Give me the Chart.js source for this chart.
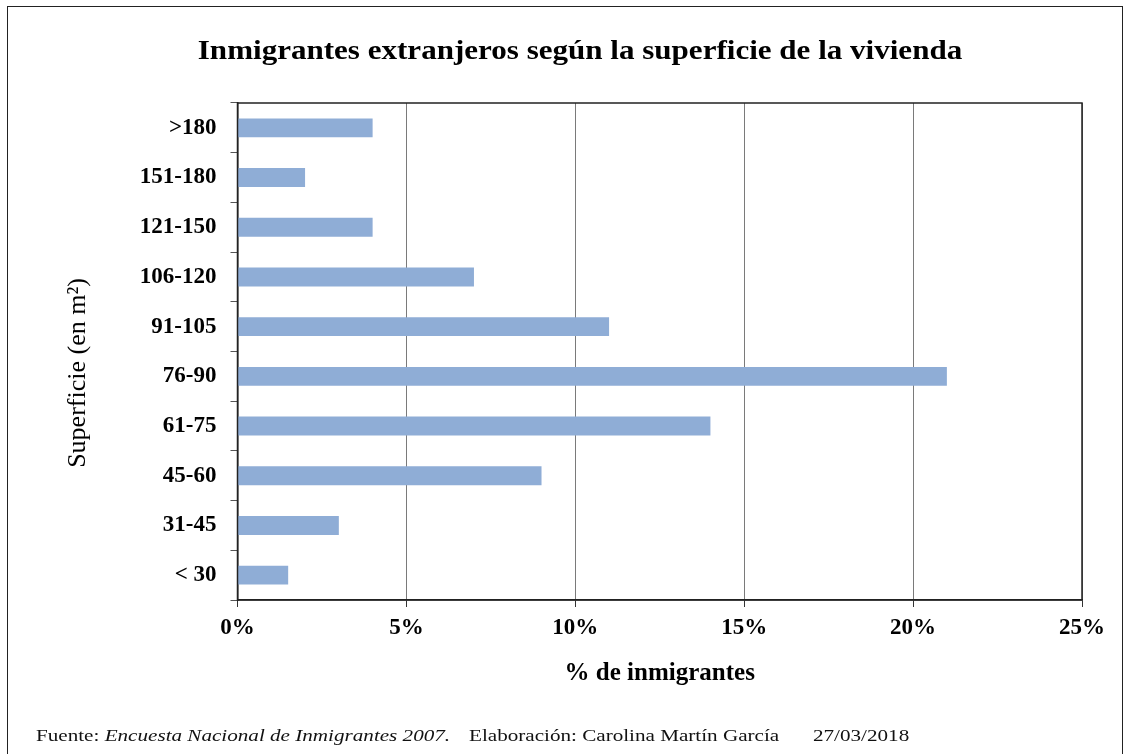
<!DOCTYPE html>
<html>
<head>
<meta charset="utf-8">
<script src="https://cdn.jsdelivr.net/npm/chart.js@4.4.0/dist/chart.umd.min.js"></script>
<style>
  html, body { margin: 0; padding: 0; background: #fff; }
  #wrap { position: relative; width: 1130px; height: 754px; overflow: hidden;
          font-family: "Liberation Serif", "DejaVu Serif", serif; color: #000; }
  #frame { position: absolute; left: 7px; top: 6px; width: 1114px; height: 780px; border: 1px solid #222; }
  #myChart { position: absolute; left: 0; top: 0; }
  /* the reference text is stretched sideways, hence the scaleX */
  #title { position: absolute; left: 80px; top: 37px; width: 1000px; text-align: center;
           font-size: 27px; line-height: 27px; font-weight: bold; white-space: nowrap;
           transform: scaleX(1.15); transform-origin: 50% 50%; }
  #ytitle { position: absolute; left: -73px; top: 358px; width: 300px; height: 30px; line-height: 30px;
            text-align: center; font-size: 26px; white-space: nowrap;
            transform: rotate(-90deg); transform-origin: 50% 50%; }
  #foot { position: absolute; top: 727px; left: 0; width: 1130px; height: 22px;
          font-size: 16px; color: #111; white-space: nowrap; }
  #foot span { position: absolute; top: 0; transform: scaleX(1.32); transform-origin: 0 50%; }
</style>
</head>
<body>
<div id="wrap">
  <div id="frame"></div>
  <canvas id="myChart" width="1130" height="754"></canvas>
  <div id="title">Inmigrantes extranjeros según la superficie de la vivienda</div>
  <div id="ytitle">Superficie (en m²)</div>
  <div id="foot">
    <span style="left:36px">Fuente: <i>Encuesta Nacional de Inmigrantes 2007.</i></span>
    <span style="left:469px">Elaboración: Carolina Martín García</span>
    <span style="left:813px">27/03/2018</span>
  </div>
</div>
<script>
// data
const categories = [">180", "151-180", "121-150", "106-120", "91-105", "76-90", "61-75", "45-60", "31-45", "< 30"];
const percents = [4, 2, 4, 7, 11, 21, 14, 9, 3, 1.5];
const xTicks = [0, 5, 10, 15, 20, 25];

const SERIF = '"Liberation Serif", "Times New Roman", serif';
const ctx = document.querySelector("#myChart").getContext('2d');

// plot area outline (top & right edge like the excel chart)
const plotFrame = {
  id: 'plotFrame',
  afterDatasetsDraw(chart) {
    const a = chart.chartArea;
    const c = chart.ctx;
    c.save();
    c.strokeStyle = '#222';
    c.lineWidth = 1.5;
    c.strokeRect(a.left, a.top, a.right - a.left, a.bottom - a.top);
    c.restore();
  }
};

const config = {
  type: 'bar',
  data: {
    labels: categories,
    datasets: [{
      label: '% de inmigrantes',
      data: percents,
      backgroundColor: '#8fadd6',
      borderWidth: 0,
      barPercentage: 0.38,
      categoryPercentage: 1
    }]
  },
  options: {
    indexAxis: 'y',
    responsive: false,
    animation: false,
    layout: {
      padding: { left: 0, right: 48, top: 103, bottom: 54 }
    },
    plugins: {
      legend: { display: false },
      tooltip: { enabled: false },
      title: { display: false }
    },
    scales: {
      x: {
        min: 0,
        max: 25,
        afterBuildTicks: (scale) => {
          scale.ticks = xTicks.map(v => ({ value: v }));
        },
        afterFit: (scale) => { scale.height = 100; },
        grid: {
          color: '#7a7a7a',
          lineWidth: 1,
          tickLength: 7,
          tickColor: '#333'
        },
        border: { color: '#222', width: 1.5 },
        ticks: {
          color: '#000',
          padding: 7,
          font: { family: SERIF, size: 23, weight: 'bold' },
          callback: (v) => v + '%'
        },
        title: {
          display: true,
          text: '% de inmigrantes',
          color: '#000',
          font: { family: SERIF, size: 25, weight: 'bold' },
          padding: { top: 0, bottom: 11 }
        }
      },
      y: {
        afterFit: (scale) => { scale.width = 237.5; },
        grid: {
          offset: true,
          drawOnChartArea: false,
          tickLength: 7,
          color: '#555'
        },
        border: { color: '#222', width: 1.5 },
        ticks: {
          color: '#000',
          padding: 14,
          font: { family: SERIF, size: 23, weight: 'bold' }
        },
        title: { display: false }
      }
    }
  },
  plugins: [plotFrame]
};

const chart = new Chart(ctx, config);
</script>
</body>
</html>
